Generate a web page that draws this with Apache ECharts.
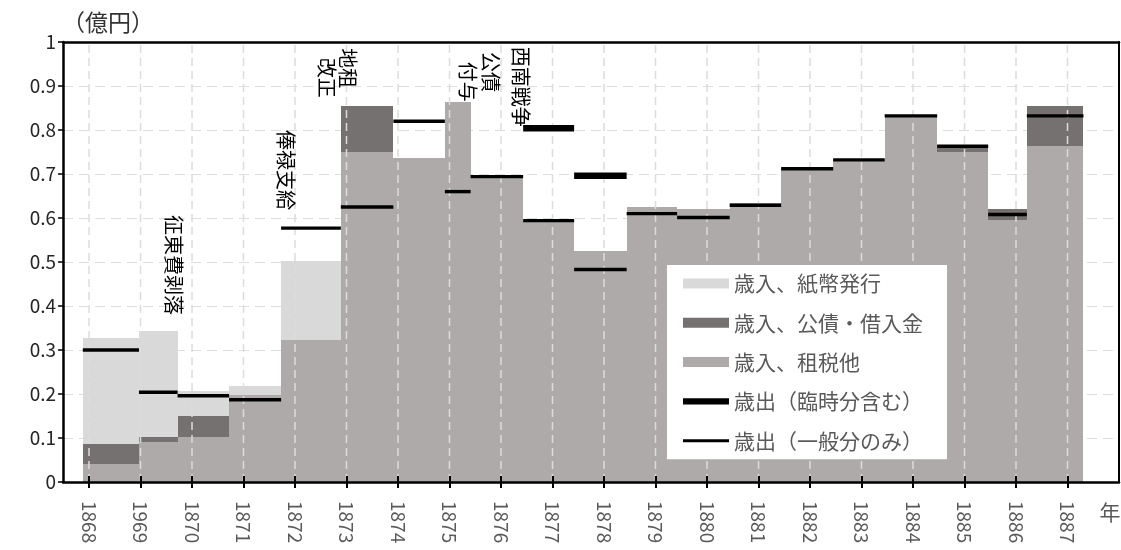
<!DOCTYPE html>
<html>
<head>
<meta charset="utf-8">
<script src="https://cdn.jsdelivr.net/npm/echarts@6/dist/echarts.min.js"></script>
<style>
  html, body { margin: 0; padding: 0; background: #fff; }
  #chart { width: 1121px; height: 550px; }
</style>
</head>
<body>
<div id="chart"></div>
<script>
// 会計期間（西暦の小数表記）
const periodStart = [1867.88, 1868.97, 1869.72, 1870.72, 1871.73, 1872.89, 1873.91, 1874.91, 1875.41, 1876.43,
                     1877.42, 1878.44, 1879.42, 1880.44, 1881.44, 1882.45, 1883.45, 1884.47, 1885.46, 1886.21];
const periodEnd   = [1868.97, 1869.72, 1870.72, 1871.73, 1872.89, 1873.91, 1874.91, 1875.41, 1876.43, 1877.42,
                     1878.44, 1879.42, 1880.44, 1881.44, 1882.45, 1883.45, 1884.47, 1885.46, 1886.21, 1887.31];

// 歳入（億円）
const revenueTax   = [0.040, 0.091, 0.103, 0.197, 0.322, 0.749, 0.736, 0.863, 0.694, 0.594,
                      0.525, 0.624, 0.620, 0.633, 0.714, 0.733, 0.834, 0.749, 0.595, 0.764];
const revenueBond  = [0.047, 0.011, 0.048, 0.000, 0.000, 0.105, 0.000, 0.000, 0.000, 0.000,
                      0.000, 0.000, 0.000, 0.000, 0.000, 0.000, 0.000, 0.016, 0.025, 0.091];
const revenuePaper = [0.240, 0.241, 0.055, 0.022, 0.181, 0.000, 0.000, 0.000, 0.000, 0.000,
                      0.000, 0.000, 0.000, 0.000, 0.000, 0.000, 0.000, 0.000, 0.000, 0.000];

// 歳出（億円）
const spendingAll     = [null, null, null, null, null, null, null, null, null, 0.804,
                         0.696, null, null, null, null, null, null, null, null, null];
const spendingGeneral = [0.300, 0.204, 0.196, 0.187, 0.577, 0.625, 0.820, 0.660, 0.694, 0.594,
                         0.483, 0.610, 0.601, 0.629, 0.712, 0.732, 0.832, 0.763, 0.608, 0.832];

// 目盛
const tickYears  = [1868, 1869, 1870, 1871, 1872, 1873, 1874, 1875, 1876, 1877,
                    1878, 1879, 1880, 1881, 1882, 1883, 1884, 1885, 1886, 1887];
const tickLabels = ['1868', '1969', '1870', '1871', '1872', '1873', '1874', '1875', '1876', '1877',
                    '1878', '1879', '1880', '1881', '1882', '1883', '1884', '1885', '1886', '1887'];

// 出来事の注記
const eventNotes = [
  { text: '征東費剥落', at: [1869.65, 0.607] },
  { text: '俸禄支給',   at: [1871.82, 0.800] },
  { text: '地租',       at: [1873.03, 0.986] },
  { text: '改正',       at: [1872.62, 0.964] },
  { text: '公債',       at: [1875.79, 0.977] },
  { text: '付与',       at: [1875.36, 0.955] },
  { text: '西南戦争',   at: [1876.39, 0.989] }
];

const FONT = '"Noto Sans CJK JP", "Noto Sans", sans-serif';
const NAMES = {
  paper: '歳入、紙幣発行',
  bond: '歳入、公債・借入金',
  tax: '歳入、租税他',
  all: '歳出（臨時分含む）',
  general: '歳出（一般分のみ）'
};

// 積み上げ区間 [始, 終, 下端, 上端]
const taxData = periodStart.map((s, i) => [s, periodEnd[i], 0, revenueTax[i]]);
const bondData = periodStart.map((s, i) => [s, periodEnd[i], revenueTax[i], revenueTax[i] + revenueBond[i]]);
const paperData = periodStart.map((s, i) => [s, periodEnd[i],
  revenueTax[i] + revenueBond[i], revenueTax[i] + revenueBond[i] + revenuePaper[i]]);
const segData = arr => periodStart.map((s, i) => [s, periodEnd[i], arr[i]]).filter(d => d[2] != null);

function renderBlock(params, api) {
  const y0 = api.value(2), y1 = api.value(3);
  if (!(y1 > y0)) return;
  const a = api.coord([api.value(0), y1]);
  const b = api.coord([api.value(1), y0]);
  const x0 = Math.round(a[0]), x1 = Math.round(b[0]);
  const top = Math.round(a[1]), bottom = Math.round(b[1]);
  return {
    type: 'rect',
    shape: { x: x0, y: top, width: x1 - x0, height: bottom - top },
    style: { fill: api.visual('color') }
  };
}

function segmentRenderer(width) {
  return function (params, api) {
    const v = api.value(2);
    const a = api.coord([api.value(0), v]);
    const b = api.coord([api.value(1), v]);
    return {
      type: 'line',
      shape: { x1: a[0], y1: a[1], x2: b[0], y2: b[1] },
      style: { stroke: '#000', lineWidth: width, lineCap: 'butt' }
    };
  };
}

function renderGridLine(params, api) {
  const a = api.coord([api.value(0), 0]);
  const b = api.coord([api.value(0), 1]);
  return {
    type: 'line',
    shape: { x1: a[0], y1: a[1], x2: b[0], y2: b[1] },
    style: { stroke: '#dcdcdc', lineWidth: 1.5, lineDash: [8, 5] }
  };
}

const X_MIN = 1867.495, X_MAX = 1888;
const frameLine = { show: true, onZero: false, lineStyle: { color: '#000', width: 2.5 } };
const hidden = { show: false };

const chart = echarts.init(document.getElementById('chart'), null, { renderer: 'canvas' });

chart.setOption({
  animation: false,
  textStyle: { fontFamily: FONT },
  grid: { left: 63, right: 2, top: 42, bottom: 68 },
  xAxis: [
    {
      type: 'value', min: X_MIN, max: X_MAX, position: 'bottom', z: 5,
      axisLine: frameLine,
      axisTick: { show: true, customValues: tickYears, length: 6, lineStyle: { color: '#000', width: 2 } },
      axisLabel: {
        customValues: tickYears, rotate: -90, margin: 19,
        color: '#595959', fontSize: 19, fontFamily: FONT,
        formatter: v => tickLabels[tickYears.indexOf(Math.round(v))]
      },
      splitLine: hidden
    },
    {
      type: 'value', min: X_MIN, max: X_MAX, position: 'bottom', z: 5,
      axisLine: hidden,
      axisTick: { show: true, inside: true, customValues: tickYears, length: 6, lineStyle: { color: '#000', width: 2 } },
      axisLabel: hidden, splitLine: hidden
    },
    {
      type: 'value', min: X_MIN, max: X_MAX, position: 'top', z: 5,
      axisLine: frameLine, axisTick: hidden, axisLabel: hidden, splitLine: hidden
    }
  ],
  yAxis: [
    {
      type: 'value', min: 0, max: 1, interval: 0.1, position: 'left', z: 0,
      axisLine: frameLine,
      axisTick: { show: true, length: 5, lineStyle: { color: '#000', width: 1.5 } },
      axisLabel: { color: '#262626', fontSize: 19, margin: 7, fontFamily: FONT },
      splitLine: { show: true, lineStyle: { color: '#dedede', width: 1, type: [10, 6] } }
    },
    {
      type: 'value', min: 0, max: 1, position: 'right', z: 5,
      axisLine: { show: true, lineStyle: { color: '#000', width: 2 } },
      axisTick: hidden, axisLabel: hidden, splitLine: hidden
    }
  ],
  legend: {
    orient: 'vertical', left: 667, top: 265,
    padding: [8, 24, 8, 16], itemGap: 18.3, itemWidth: 46, itemHeight: 10,
    backgroundColor: '#fff', z: 6,
    textStyle: { color: '#595959', fontSize: 21, fontFamily: FONT },
    data: [
      { name: NAMES.paper, icon: 'rect' },
      { name: NAMES.bond, icon: 'rect' },
      { name: NAMES.tax, icon: 'rect' },
      { name: NAMES.all, icon: 'path://M0 0H52V7H0Z' },
      { name: NAMES.general, icon: 'path://M0 0H50V3.4H0Z' }
    ]
  },
  series: [
    {
      name: NAMES.tax, type: 'custom', renderItem: renderBlock, z: 2,
      itemStyle: { color: '#aeaaaa' }, encode: { x: [0, 1], y: [2, 3] }, data: taxData
    },
    {
      name: NAMES.bond, type: 'custom', renderItem: renderBlock, z: 2,
      itemStyle: { color: '#767171' }, encode: { x: [0, 1], y: [2, 3] }, data: bondData
    },
    {
      name: NAMES.paper, type: 'custom', renderItem: renderBlock, z: 2,
      itemStyle: { color: '#d9d9d9' }, encode: { x: [0, 1], y: [2, 3] }, data: paperData
    },
    {
      name: 'grid-x', type: 'custom', renderItem: renderGridLine, z: 3, silent: true,
      encode: { x: 0, y: [1, 2] }, data: tickYears.map(y => [y, 0, 1])
    },
    {
      name: NAMES.all, type: 'custom', renderItem: segmentRenderer(6.5), z: 4,
      itemStyle: { color: '#000' }, encode: { x: [0, 1], y: 2 }, data: segData(spendingAll)
    },
    {
      name: NAMES.general, type: 'custom', renderItem: segmentRenderer(3.4), z: 4,
      itemStyle: { color: '#000' }, encode: { x: [0, 1], y: 2 }, data: segData(spendingGeneral)
    }
  ]
});

// 注記と単位
const graphics = eventNotes.map(n => {
  const p = chart.convertToPixel({ gridIndex: 0 }, n.at);
  return {
    type: 'text', x: p[0], y: p[1], rotation: -Math.PI / 2, z: 10,
    style: {
      text: n.text, font: '20px ' + FONT, fill: '#000',
      align: 'left', verticalAlign: 'middle',
      textAlign: 'left', textVerticalAlign: 'middle'
    }
  };
});
graphics.push({
  type: 'text', x: 62, y: 22, z: 10,
  style: { text: '（億円）', font: '23px ' + FONT, fill: '#333',
           align: 'left', verticalAlign: 'middle', textAlign: 'left', textVerticalAlign: 'middle' }
});
graphics.push({
  type: 'text', x: 1110, y: 512, z: 10,
  style: { text: '年', font: '21px ' + FONT, fill: '#595959',
           align: 'center', verticalAlign: 'middle', textAlign: 'center', textVerticalAlign: 'middle' }
});
chart.setOption({ graphic: graphics });
</script>
</body>
</html>
